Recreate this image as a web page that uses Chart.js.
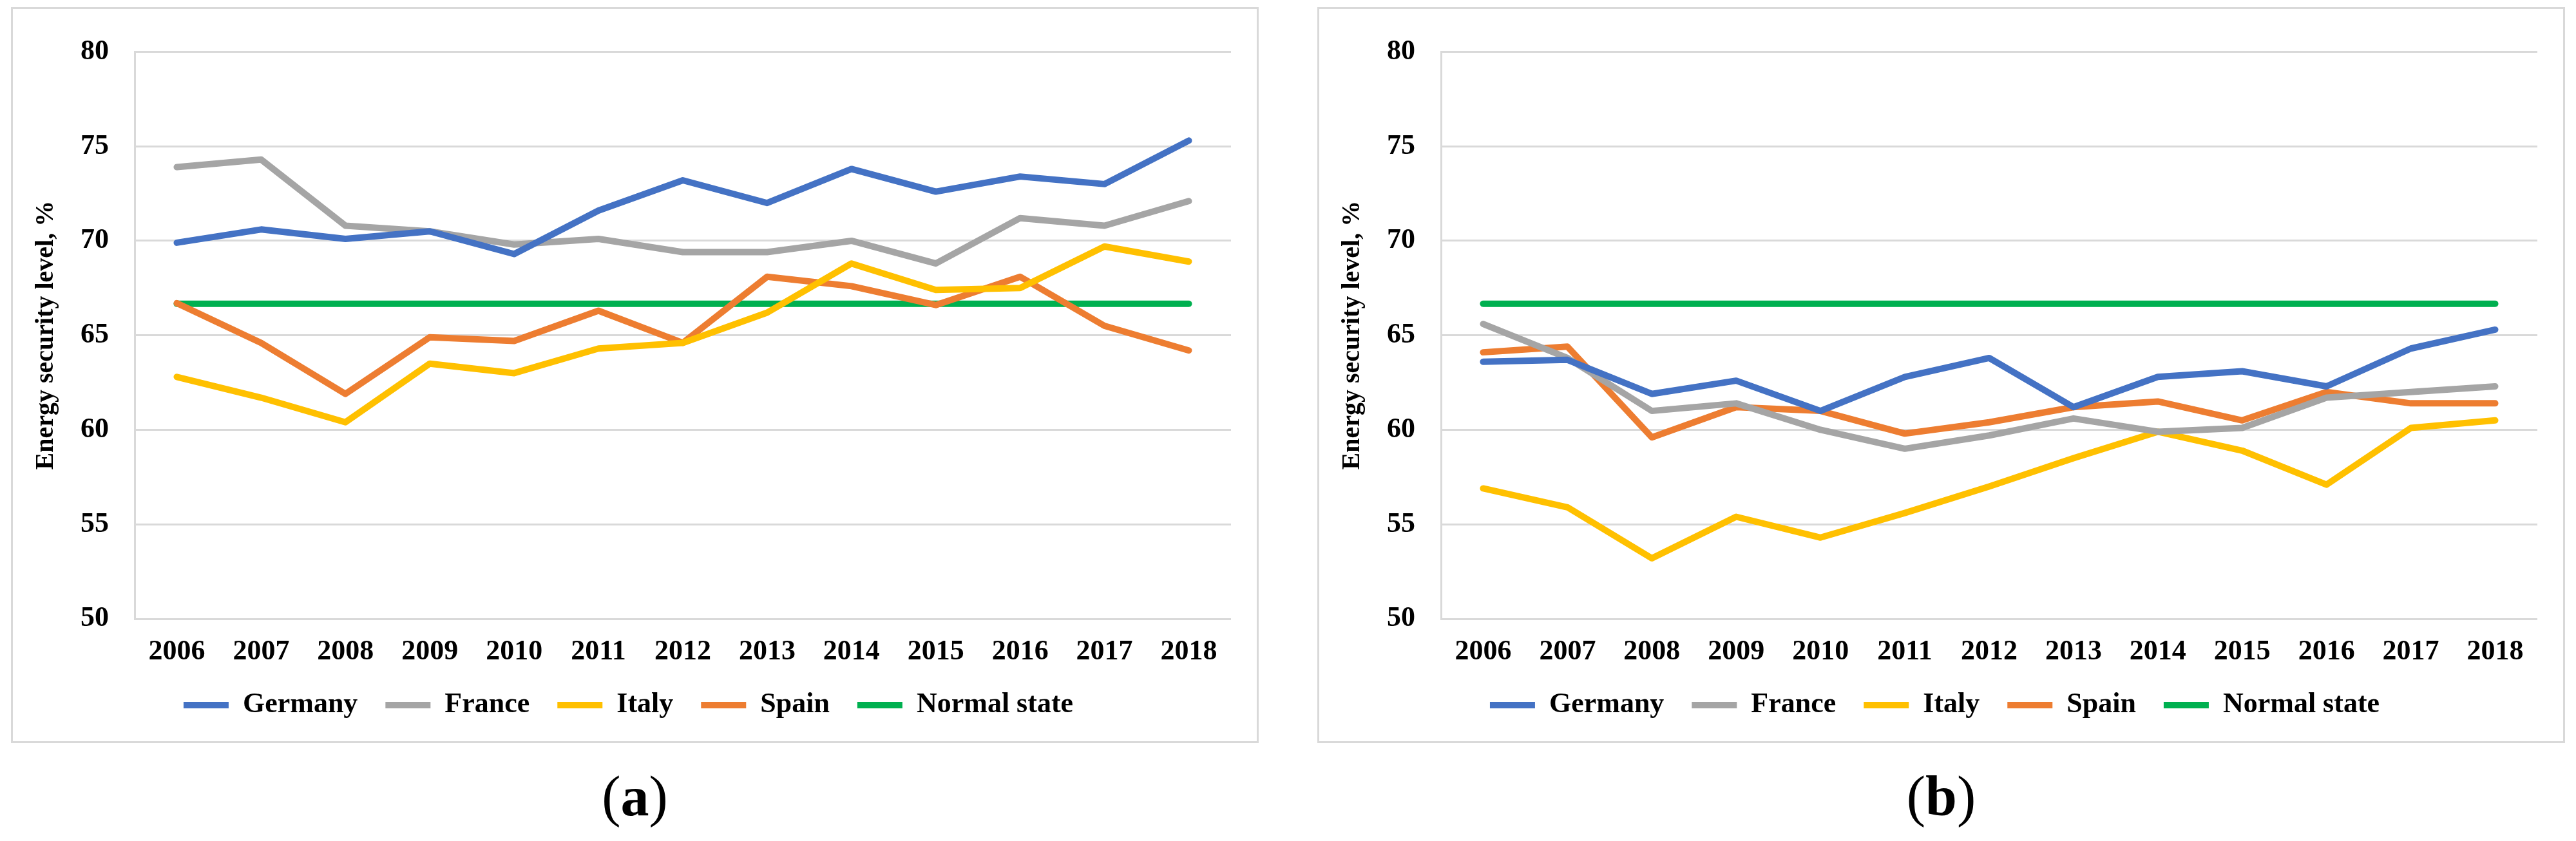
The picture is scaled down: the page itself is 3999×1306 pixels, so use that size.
<!DOCTYPE html>
<html>
<head>
<meta charset="utf-8">
<title>Energy security level</title>
<script src="https://cdn.jsdelivr.net/npm/chart.js@4.4.1/dist/chart.umd.min.js"></script>
<style>
    html, body { margin: 0; padding: 0; background: #ffffff; }
    body { width: 3999px; height: 1306px; position: relative; overflow: hidden; }
    .panel {
        position: absolute; top: 11px; width: 1937px; height: 1143px;
        border: 3px solid #d9d9d9; box-sizing: border-box;
    }
    .panel canvas { display: block; }
    .caption {
        position: absolute; top: 1193px; width: 1937px; text-align: center;
        font-family: 'Liberation Serif', 'Times New Roman', serif;
        font-size: 88px; line-height: 88px; color: #000;
    }
    .caption b { font-weight: bold; }
</style>
</head>
<body>
<div class="panel" style="left:17px"><canvas id="chartA"></canvas></div>
<div class="panel" style="left:2045px"><canvas id="chartB"></canvas></div>
<div class="caption" style="left:17px">(<b>a</b>)</div>
<div class="caption" style="left:2045px">(<b>b</b>)</div>

<script>
// ── Data ───────────────────────────────────────────────────────────────────
const years = ['2006', '2007', '2008', '2009', '2010', '2011', '2012',
               '2013', '2014', '2015', '2016', '2017', '2018'];

// panel (a)
const germanyA = [69.9, 70.6, 70.1, 70.5, 69.3, 71.6, 73.2, 72.0, 73.8, 72.6, 73.4, 73.0, 75.3];
const franceA  = [73.9, 74.3, 70.8, 70.5, 69.8, 70.1, 69.4, 69.4, 70.0, 68.8, 71.2, 70.8, 72.1];
const italyA   = [62.8, 61.7, 60.4, 63.5, 63.0, 64.3, 64.6, 66.2, 68.8, 67.4, 67.5, 69.7, 68.9];
const spainA   = [66.7, 64.6, 61.9, 64.9, 64.7, 66.3, 64.6, 68.1, 67.6, 66.6, 68.1, 65.5, 64.2];

// panel (b)
const germanyB = [63.6, 63.7, 61.9, 62.6, 61.0, 62.8, 63.8, 61.2, 62.8, 63.1, 62.3, 64.3, 65.3];
const franceB  = [65.6, 63.8, 61.0, 61.4, 60.0, 59.0, 59.7, 60.6, 59.9, 60.1, 61.7, 62.0, 62.3];
const italyB   = [56.9, 55.9, 53.2, 55.4, 54.3, 55.6, 57.0, 58.5, 59.9, 58.9, 57.1, 60.1, 60.5];
const spainB   = [64.1, 64.4, 59.6, 61.2, 61.0, 59.8, 60.4, 61.2, 61.5, 60.5, 62.0, 61.4, 61.4];

// threshold line, same in both panels
const normalState = [66.67, 66.67, 66.67, 66.67, 66.67, 66.67, 66.67,
                     66.67, 66.67, 66.67, 66.67, 66.67, 66.67];

const yTicks = { min: 50, max: 80, step: 5 };
const yTitle = 'Energy security level, %';

// ── Style ──────────────────────────────────────────────────────────────────
const FONT = "'Liberation Serif', 'Times New Roman', serif";
const GRID = '#d9d9d9';
const COLORS = {
    Germany: '#4472c4',
    France: '#a5a5a5',
    Italy: '#ffc000',
    Spain: '#ed7d31',
    'Normal state': '#00b050'
};

function series(label, data) {
    return {
        label: label,
        data: data,
        borderColor: COLORS[label],
        backgroundColor: COLORS[label],
        borderWidth: 10,
        borderCapStyle: 'round',
        borderJoinStyle: 'round',
        pointRadius: 0,
        pointHoverRadius: 0,
        pointStyle: 'line',
        tension: 0
    };
}

function makeChart(id, germany, france, italy, spain) {
    const ctx = document.getElementById(id).getContext('2d');
    return new Chart(ctx, {
        type: 'line',
        data: {
            labels: years,
            datasets: [
                series('Germany', germany),
                series('France', france),
                series('Italy', italy),
                series('Spain', spain),
                series('Normal state', normalState)
            ]
        },
        options: {
            responsive: true,
            maintainAspectRatio: false,
            animation: false,
            devicePixelRatio: 1,
            layout: { padding: { top: 40, right: 40, bottom: 24, left: 20 } },
            plugins: {
                legend: {
                    display: true,
                    position: 'bottom',
                    labels: {
                        color: '#000',
                        font: { family: FONT, size: 44, weight: 'bold', lineHeight: 1 },
                        usePointStyle: true,
                        pointStyle: 'line',
                        pointStyleWidth: 70,
                        padding: 43
                    }
                },
                tooltip: { enabled: false }
            },
            scales: {
                x: {
                    offset: true,
                    grid: { display: false, drawTicks: false },
                    border: { display: false },
                    ticks: {
                        color: '#000',
                        padding: 25,
                        maxRotation: 0,
                        font: { family: FONT, size: 44, weight: 'bold' }
                    },
                    afterFit: s => { s.height = 69; }
                },
                y: {
                    min: yTicks.min,
                    max: yTicks.max,
                    grid: { color: GRID, lineWidth: 3, drawTicks: false },
                    border: { display: true, color: GRID, width: 3 },
                    ticks: {
                        stepSize: yTicks.step,
                        color: '#000',
                        padding: 40,
                        font: { family: FONT, size: 44, weight: 'bold' }
                    },
                    title: {
                        display: true,
                        text: yTitle,
                        color: '#000',
                        padding: { top: 12, bottom: 0 },
                        font: { family: FONT, size: 40, weight: 'bold', lineHeight: 1 }
                    },
                    afterFit: s => { s.width = 169; }
                }
            }
        }
    });
}

// ── Build both panels ──────────────────────────────────────────────────────
const chartA = makeChart('chartA', germanyA, franceA, italyA, spainA);
const chartB = makeChart('chartB', germanyB, franceB, italyB, spainB);
</script>
</body>
</html>
